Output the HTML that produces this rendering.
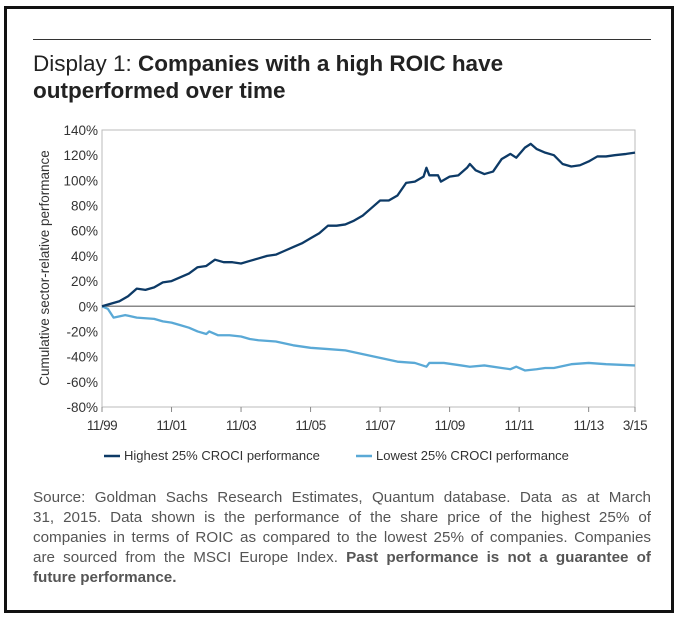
<!DOCTYPE html>
<html><head><meta charset="utf-8"><style>
body{margin:0;background:#fff;font-family:"Liberation Sans",sans-serif;}
#frame{position:absolute;left:4px;top:6px;width:664px;height:601px;border:3px solid #111;}
#rule{position:absolute;left:33px;top:39px;width:618px;height:1px;background:#333;}
#title{position:absolute;left:33px;top:50px;font-size:22.5px;line-height:27px;color:#222;}
#title b{font-weight:bold;}
#src{position:absolute;left:33px;top:488px;width:618px;font-size:15.2px;line-height:20px;color:#555;}
#src div{white-space:nowrap;text-align:justify;text-align-last:justify;}
#src div.last{text-align-last:left;}
</style></head><body>
<div id="frame"></div>
<div id="rule"></div>
<div id="title">Display 1: <b>Companies with a high ROIC have<br>outperformed over time</b></div>
<svg id="chart" width="680" height="480" style="position:absolute;left:0;top:0"></svg>
<div id="src">
<div>Source: Goldman Sachs Research Estimates, Quantum database. Data as at March</div>
<div>31, 2015. Data shown is the performance of the share price of the highest 25% of</div>
<div>companies in terms of ROIC as compared to the lowest 25% of companies. Companies</div>
<div>are sourced from the MSCI Europe Index. <b>Past performance is not a guarantee of</b></div>
<div class="last"><b>future performance.</b></div>
</div>
<script>
const yTicks=[140,120,100,80,60,40,20,0,-20,-40,-60,-80];
const xTickLabels=["11/99","11/01","11/03","11/05","11/07","11/09","11/11","11/13","3/15"];
const xTickMonths=[0,24,48,72,96,120,144,168,184];
const highMonths=[0,3,6,9,12,15,18,21,24,27,30,33,36,39,42,45,48,51,54,57,60,63,66,69,72,75,78,81,84,87,90,93,96,99,102,105,108,111,112,113,116,117,120,123,126,127,129,132,135,138,141,143,146,148,150,153,156,159,162,165,168,171,174,177,181,184];
const highValues=[0,2,4,8,14,13,15,19,20,23,26,31,32,37,35,35,34,36,38,40,41,44,47,50,54,58,64,64,65,68,72,78,84,84,88,98,99,103,110,104,104,99,103,104,110,113,108,105,107,117,121,118,126,129,125,122,120,113,111,112,115,119,119,120,121,122];
const lowMonths=[0,2,4,6,8,12,18,21,24,27,30,33,36,37,40,44,48,51,54,60,66,69,72,78,84,90,96,102,108,112,113,118,124,127,132,138,141,143,146,150,153,156,162,168,174,184];
const lowValues=[0,-2,-9,-8,-7,-9,-10,-12,-13,-15,-17,-20,-22,-20,-23,-23,-24,-26,-27,-28,-31,-32,-33,-34,-35,-38,-41,-44,-45,-48,-45,-45,-47,-48,-47,-49,-50,-48,-51,-50,-49,-49,-46,-45,-46,-47];
const seriesNames=["Highest 25% CROCI performance","Lowest 25% CROCI performance"];
const L=102,R=635,T=130,B=407;
const xs=m=>L+m*(R-L)/184;
const ys=v=>T+(140-v)*(B-T)/220;
const NS="http://www.w3.org/2000/svg";
const svg=document.getElementById('chart');
function mk(t,a){const e=document.createElementNS(NS,t);for(const k in a)e.setAttribute(k,a[k]);svg.appendChild(e);return e;}
const frame=mk('rect',{x:L,y:T,width:R-L,height:B-T,fill:'none',stroke:'#bbb','stroke-width':1});


yTicks.forEach(v=>{const t=mk('text',{x:L-4,y:ys(v)+5,'text-anchor':'end','font-size':13.5,fill:'#333'});t.textContent=v+'%';

});
const zero=mk('line',{x1:L,x2:R,y1:ys(0),y2:ys(0),stroke:'#888','stroke-width':1.5});


xTickMonths.forEach((m,i)=>{mk('line',{x1:xs(m),x2:xs(m),y1:B,y2:B+5,stroke:'#888'});
const t=mk('text',{x:xs(m),y:B+23,'text-anchor':'middle','font-size':13.5,fill:'#333','letter-spacing':'-0.5'});t.textContent=xTickLabels[i];

});
const yt=mk('text',{x:0,y:0,transform:'translate(49,268) rotate(-90)','text-anchor':'middle','font-size':13.5,fill:'#333'});
yt.textContent='Cumulative sector-relative performance';


function line(ms,vs,c,name){const p=mk('polyline',{points:ms.map((m,i)=>xs(m)+','+ys(vs[i])).join(' '),fill:'none',stroke:c,'stroke-width':2.3,'stroke-linejoin':'round'});

}
line(lowMonths,lowValues,'#5aa9d6','line-lowest-25');
line(highMonths,highValues,'#0d3a66','line-highest-25');
[[104,'#0d3a66',seriesNames[0]],[356,'#5aa9d6',seriesNames[1]]].forEach(([x,c,n],i)=>{
mk('line',{x1:x,x2:x+16,y1:456,y2:456,stroke:c,'stroke-width':2.5});
const t=mk('text',{x:x+20,y:460,'font-size':13,fill:'#333'});t.textContent=n;

});
</script>
</body></html>
